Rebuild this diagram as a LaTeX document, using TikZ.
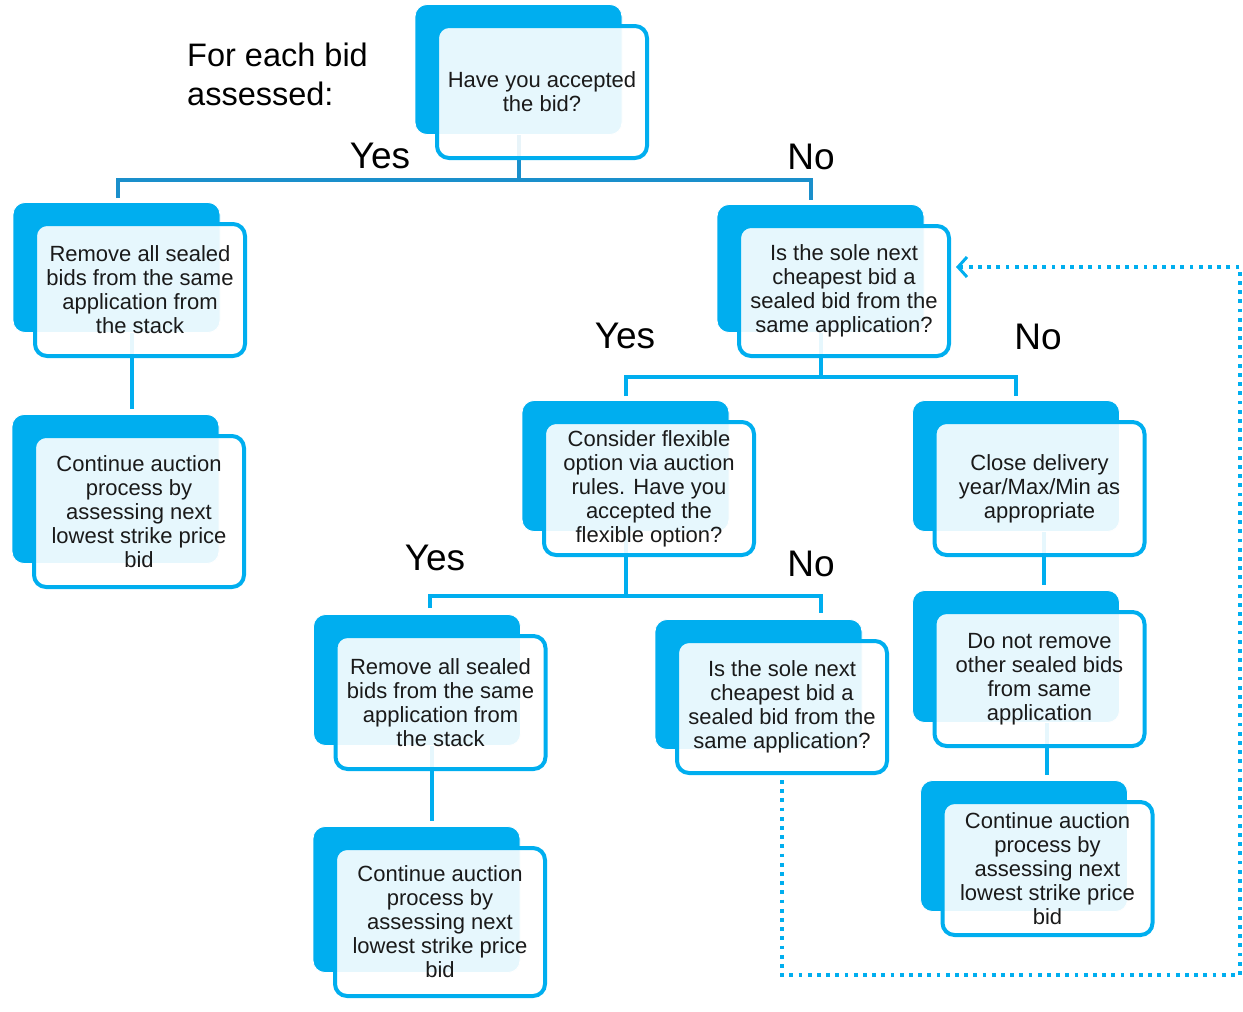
\documentclass[tikz,border=0pt]{standalone}
\usepackage{fontspec}
\setmainfont{Liberation Sans}
\usetikzlibrary{arrows.meta}
\definecolor{boxblue}{HTML}{00AEEF}
\definecolor{linkdark}{HTML}{1A8FCB}
\definecolor{inktext}{HTML}{1A1A1A}
\pgfdeclarelayer{bg}
\pgfsetlayers{bg,main}
% a decision box: solid blue card behind, translucent white card in front
% #1 name, #2 x, #3 y (centre of the front card), #4 front height, #5 text
\newcommand\bidbox[5]{%
  \node[backcard, minimum height={#4-6}] (#1b) at (#2-23.5, #3-22.5) {};
  \node[frontcard, minimum height={#4-4}] (#1) at (#2, #3) {#5};
}
\begin{document}
\begin{tikzpicture}[x=1pt, y=-1pt,
  backcard/.style={rectangle, rounded corners=12pt, fill=boxblue, draw=white,
    line width=0.8pt, minimum width=207pt, inner sep=0pt},
  frontcard/.style={rectangle, rounded corners=12pt, draw=boxblue, line width=4pt,
    fill=white, fill opacity=0.9, text opacity=1, text=inktext,
    minimum width=210pt, inner sep=0pt, align=center,
    font=\fontsize{22}{24}\selectfont},
  link/.style={draw=boxblue, line width=4pt},
  topl/.style={draw=linkdark, line width=4pt},
  branch/.style={text=black, font=\fontsize{37}{40}\selectfont, inner sep=0pt, anchor=base},
  loopback/.style={draw=boxblue, line width=3.6pt, dash pattern=on 3.8pt off 5.4pt,
    -{Straight Barb[length=9pt, width=20pt, line width=3pt]}}
]
\useasboundingbox (0,0) rectangle (1243,1012);

\node[anchor=north west, inner sep=0pt, align=left, text=black,
  font=\fontsize{32.5}{39}\selectfont] (head) at (187,43) {For each bid\\assessed:};

\bidbox{q1}{542}{92}{136}{Have you accepted\\the bid?}
\bidbox{rma}{140}{290}{136}{Remove all sealed\\bids from the same\\application from\\the stack}
\bidbox{cta}{139}{511.5}{155}{Continue auction\\process by\\assessing next\\lowest strike price\\bid}
\bidbox{q2}{844}{291}{134}{Is the sole next\\cheapest bid a\\sealed bid from the\\same application?}
\bidbox{flex}{649}{488.5}{137}{Consider flexible\\option via auction\\rules. Have you\\accepted the\\flexible option?}
\bidbox{close}{1039.5}{488.5}{137}{Close delivery\\year/Max/Min as\\appropriate}
\bidbox{rmb}{440.5}{702.5}{137}{Remove all sealed\\bids from the same\\application from\\the stack}
\bidbox{q3}{782}{707}{136}{Is the sole next\\cheapest bid a\\sealed bid from the\\same application?}
\bidbox{dnr}{1039.5}{679}{138}{Do not remove\\other sealed bids\\from same\\application}
\bidbox{ctb}{440}{922}{152}{Continue auction\\process by\\assessing next\\lowest strike price\\bid}
\bidbox{ctc}{1047.5}{868.5}{137}{Continue auction\\process by\\assessing next\\lowest strike price\\bid}

% branch labels
\node[branch] (y1) at (380,168) {Yes};
\node[branch] (n1) at (811,169) {No};
\node[branch] (y2) at (625,348) {Yes};
\node[branch] (n2) at (1038,349) {No};
\node[branch] (y3) at (435,570) {Yes};
\node[branch] (n3) at (811,576) {No};

% junction points of the splits
\path (q1b.south) ++(0,45.5) coordinate (j1);
\path (q2b.south) ++(0,44.5) coordinate (j2);
\path (flexb.south) ++(0,64.5) coordinate (j3);
\coordinate (lb) at (1240,975);

\begin{pgfonlayer}{bg}
  % first decision
  \draw[topl] (q1b.south) -- (j1);
  \draw[topl] ([xshift=1pt,yshift=4pt]rmab.north) |- (j1) -| ([xshift=-9.5pt,yshift=4pt]q2b.north);
  % second decision
  \draw[link] (q2b.south) -- (j2);
  \draw[link] ([yshift=4pt]flexb.north) |- (j2) -| ([yshift=4pt]closeb.north);
  % flexible option decision
  \draw[link] (flexb.south) -- (j3);
  \draw[link] ([xshift=13pt,yshift=6pt]rmbb.north) |- (j3) -| ([xshift=62.5pt,yshift=6pt]q3b.north);
  % straight runs
  \draw[link, shorten >=5pt] ([xshift=15pt]rmab.south) -- ([xshift=15pt]rmab.south |- ctab.north);
  \draw[link, shorten >=5pt] ([xshift=15pt]rmbb.south) -- ([xshift=15pt]rmbb.south |- ctbb.north);
  \draw[link, shorten >=5pt] ([xshift=28pt]closeb.south) -- ([xshift=28pt]closeb.south |- dnrb.north);
  \draw[link, shorten >=5pt] ([xshift=31pt]dnrb.south) -- ([xshift=31pt]dnrb.south |- ctcb.north);
\end{pgfonlayer}

% loop back to the next cheapest bid check
\draw[loopback] ([yshift=-5pt]q3.south) |- (lb) |- ([xshift=5pt,yshift=24pt]q2.east);
\end{tikzpicture}
\end{document}
